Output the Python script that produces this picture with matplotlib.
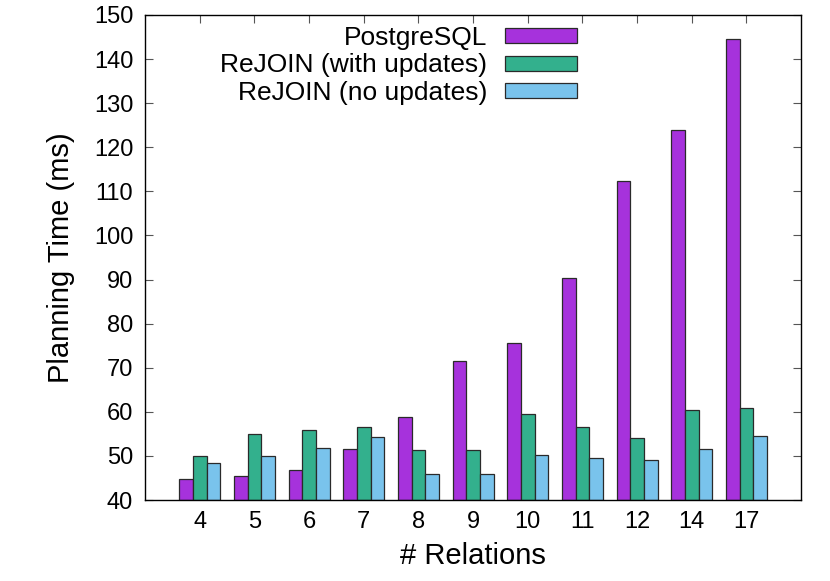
import numpy as np
import matplotlib.pyplot as plt

plt.rcParams['font.family'] = ['Liberation Sans', 'DejaVu Sans']

# Data
relations = ['4', '5', '6', '7', '8', '9', '10', '11', '12', '14', '17']
postgres = [44.7, 45.4, 46.9, 51.6, 58.9, 71.6, 75.7, 90.4, 112.4, 123.9, 144.5]
rejoin_updates = [49.9, 54.9, 55.8, 56.5, 51.3, 51.3, 59.4, 56.6, 54.1, 60.4, 60.8]
rejoin_no_updates = [48.5, 50.0, 51.7, 54.3, 45.8, 45.8, 50.1, 49.5, 49.0, 51.5, 54.6]

series = [
    ("PostgreSQL", postgres, '#a632dc'),
    ("ReJOIN (with updates)", rejoin_updates, '#33b08d'),
    ("ReJOIN (no updates)", rejoin_no_updates, '#79c3ec'),
]

fig = plt.figure(figsize=(8.3, 5.81), dpi=100)
ax = fig.add_axes([0.1747, 0.1394, 0.7905, 0.8348])

x = np.arange(len(relations))
w = 0.25
for i, (name, vals, col) in enumerate(series):
    ax.bar(x + (i - 1) * w, np.array(vals) - 40, w, bottom=40, color=col,
           edgecolor='#2a2a2a', linewidth=0.9, label=name, zorder=2)

ax.set_xlim(-1, len(relations))
ax.set_ylim(40, 150)
ax.set_yticks(range(40, 151, 10))
ax.set_xticks(x)
ax.set_xticklabels(relations)

ax.tick_params(axis='both', direction='in', labelsize=17, top=True, right=True,
               length=6, width=0.8, color='#555555')
ax.tick_params(axis='x', pad=8)
ax.tick_params(axis='y', pad=8.5)
for s in ax.spines.values():
    s.set_linewidth(1.0)

ax.set_xlabel("# Relations", fontsize=21)
ax.set_ylabel("Planning Time (ms)", fontsize=21)
ax.xaxis.set_label_coords(0.5, -0.087)
ax.yaxis.set_label_coords(-0.107, 0.5)

ax.legend(loc='upper right', bbox_to_anchor=(0.659, 0.977), frameon=False,
          markerfirst=False, fontsize=19, handlelength=2.73, handleheight=0.5,
          labelspacing=0.125, borderpad=0, borderaxespad=0, handletextpad=0.68)

plt.savefig('out.png', dpi=100)
